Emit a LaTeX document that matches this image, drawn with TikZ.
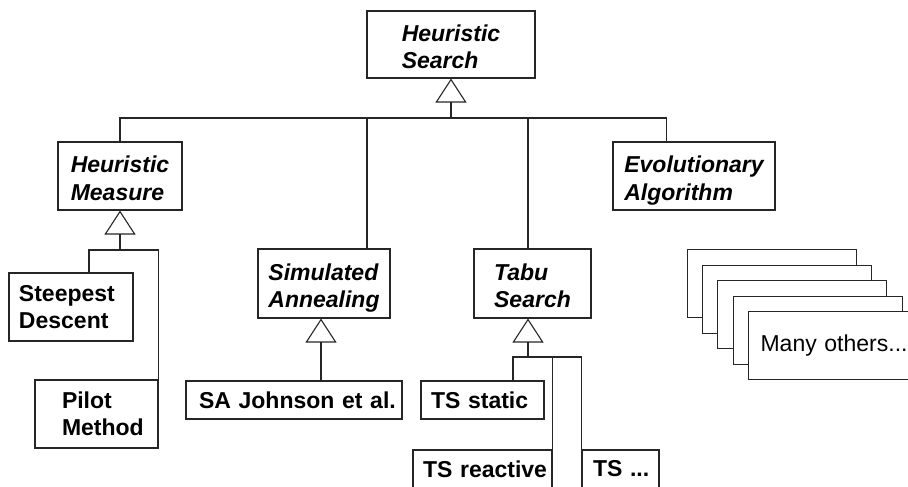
\documentclass[tikz,border=0pt]{standalone}
\usepackage{fontspec}
\setmainfont{Liberation Sans}
\usetikzlibrary{arrows.meta}

\tikzset{
  line/.style={draw=black!85, line width=1.1pt},
  basebox/.style={line, fill=white, inner sep=0pt},
  sz/.style 2 args={minimum width=#1pt, minimum height=#2pt},
  % abstract classes: bold italic, lines left-aligned, block centred
  abstractcls/.style={basebox, align=left,
    font=\fontsize{23}{27.5}\selectfont\bfseries\itshape},
  % concrete classes: bold, text set from the left edge
  concretecls/.style={basebox, align=left, text width=#1pt,
    font=\fontsize{23}{27.5}\selectfont\bfseries},
  stackbox/.style={basebox, sz={169}{68}, anchor=north west},
  conn/.style={line},
  gen/.style={line, -{Triangle[open, length=24pt, width=31pt]}},
}
\newcommand\lpad[1]{\hspace*{#1pt}}
% two lines with a fixed top and no descender below the last line
\newcommand\twolines[2]{\rule{0pt}{21pt}#1\\\smash{#2}}

\begin{document}
\begin{tikzpicture}[x=1pt, y=-1pt]
\clip (0,0) rectangle (908,487);

% abstract classes
\node[abstractcls, sz={168}{67}] (hs) at (451,44.5)   {\twolines{Heuristic}{Search}};
\node[abstractcls, sz={124}{68}] (hm) at (120,176)    {\twolines{Heuristic}{Measure}};
\node[abstractcls, sz={132}{69}] (sa) at (324,283.5)  {\twolines{Simulated}{Annealing}};
\node[abstractcls, sz={117}{69}] (ts) at (532.5,283.5){\twolines{Tabu}{Search}};
\node[abstractcls, sz={162}{68}] (ea) at (694,176)    {\twolines{Evolutionary}{Algorithm}};

% concrete classes
\node[concretecls=124, minimum height=68pt] (sd) at (71,307)
  {\lpad{10}Steepest\\\lpad{10}Descent};
\node[concretecls=123, minimum height=68pt] (pm) at (96.5,414)
  {\lpad{27}Pilot\\\lpad{27}Method};
\node[concretecls=216, minimum height=38pt] (saj) at (294,400)
  {\lpad{13}SA Johnson et al.};
\node[concretecls=123, minimum height=38pt] (tss) at (482.5,400)
  {\lpad{10}TS static};
\node[concretecls=139, minimum height=38pt] (tsr) at (482.5,469)
  {\lpad{10}TS reactive};
\node[concretecls=77, minimum height=38pt] (tsd) at (620.5,469)
  {\lpad{11}TS ...};

% stack of further methods
\node[stackbox] (m1) at (687,249) {};
\node[stackbox] (m2) at (702,265) {};
\node[stackbox] (m3) at (717,280) {};
\node[stackbox] (m4) at (733,296) {};
\node[stackbox, align=left, text width=169pt,
      font=\fontsize{23}{27.5}\selectfont] (m5) at (748,311)
  {\lpad{12}Many others...};

% top level hierarchy
\coordinate (jhs) at (451,118);
\draw[gen] (jhs) -- (hs.south);
\draw[conn] (hm.north) |- (jhs) -| ([xshift=54pt]ea.north west);
\path ([xshift=43pt]sa.north) coordinate (satop);
\draw[conn] (satop) -- (satop |- jhs);
\path ([xshift=-4.5pt]ts.north) coordinate (tstop);
\draw[conn] (tstop) -- (tstop |- jhs);

% heuristic measure subtree
\coordinate (hmj) at (120,250);
\draw[gen] (hmj) -- (hm.south);
\draw[conn] ([xshift=18pt]sd.north) |- (hmj) -| (pm.north east);

% simulated annealing subtree
\path ([xshift=27pt]saj.north) coordinate (sajtop);
\draw[gen] (sajtop) -- (sajtop |- sa.south);

% tabu search subtree
\coordinate (tsj) at (528,357);
\draw[gen] (tsj) -- (tsj |- ts.south);
\draw[conn] ([xshift=30.5pt]tss.north) |- (tsj) -| (tsd.north west);
\draw[conn] (tsr.north east) -- (tsr.north east |- tsj);
\end{tikzpicture}
\end{document}
